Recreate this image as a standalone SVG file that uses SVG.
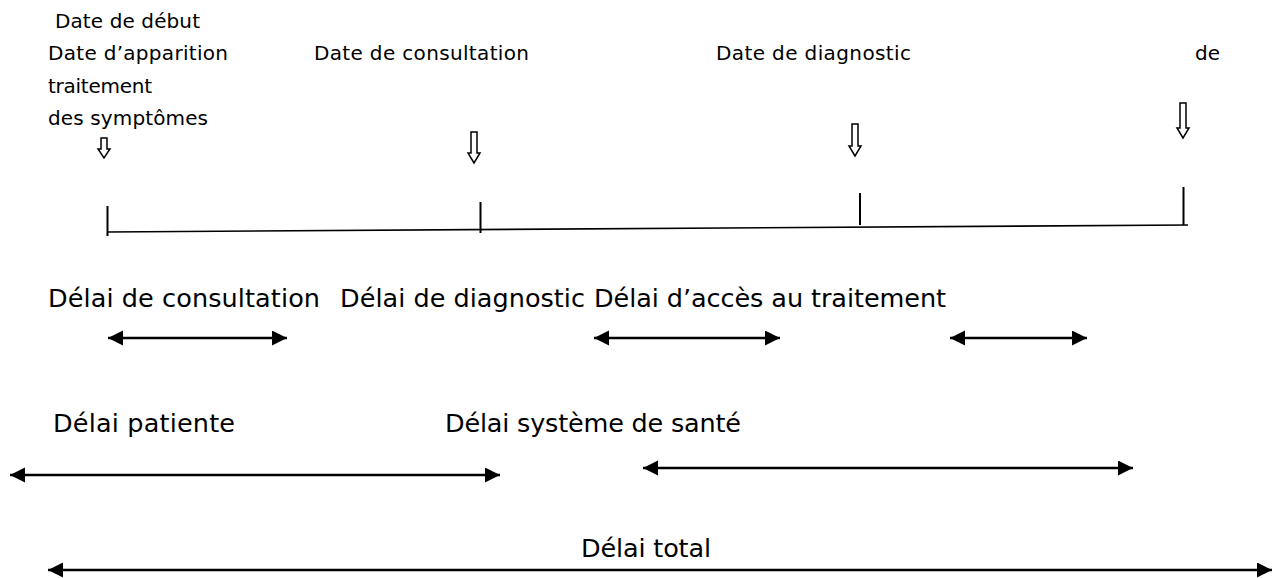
<svg xmlns="http://www.w3.org/2000/svg" width="1279" height="578" viewBox="0 0 1279 578">
<style>
.s{font-family:"DejaVu Sans",Verdana,sans-serif;font-size:20px;fill:#000}
.l{font-family:"DejaVu Sans",Verdana,sans-serif;font-size:25.5px;fill:#000}
.ln{stroke:#000;stroke-width:1.6;fill:none}
.tk{stroke:#000;stroke-width:2;fill:none}
.da{stroke:#000;stroke-width:2.6;fill:none;marker-start:url(#ah);marker-end:url(#ah)}
.ba{fill:#fff;stroke:#000;stroke-width:1.5}
</style>
<defs>
<marker id="ah" markerUnits="userSpaceOnUse" markerWidth="16" markerHeight="16" viewBox="0 0 16 16" refX="15" refY="7.5" orient="auto-start-reverse">
<path d="M0,0 L15,7.5 L0,15 Z" fill="#000"/>
</marker>
</defs>
<rect width="1279" height="578" fill="#fff"/>
<g id="label-debut">
<text class="s" x="55" y="28" textLength="145" lengthAdjust="spacing">Date de début</text>
<text class="s" x="48" y="60" textLength="180" lengthAdjust="spacing">Date d’apparition</text>
<text class="s" x="48" y="93" textLength="104" lengthAdjust="spacing">traitement</text>
<text class="s" x="48" y="125" textLength="160" lengthAdjust="spacing">des symptômes</text>
</g>
<g id="label-consultation"><text class="s" x="314" y="60" textLength="215" lengthAdjust="spacing">Date de consultation</text></g>
<g id="label-diagnostic"><text class="s" x="716" y="60" textLength="195" lengthAdjust="spacing">Date de diagnostic</text></g>
<g id="label-traitement"><text class="s" x="1195" y="60">de</text></g>
<g id="pointers">
<path class="ba" d="M101,138 H107 V149 H110 L104,158 L98,149 H101 Z"/>
<path class="ba" d="M471,132 H477 V153 H480 L474,163 L468,153 H471 Z"/>
<path class="ba" d="M852,124 H858 V146 H861 L855,156 L849,146 H852 Z"/>
<path class="ba" d="M1180,103 H1186 V128 H1189 L1183,138 L1177,128 H1180 Z"/>
</g>
<g id="timeline">
<line class="ln" x1="107" y1="232" x2="1188" y2="225"/>
<line class="tk" x1="107.5" y1="206" x2="107.5" y2="236"/>
<line class="tk" x1="480.5" y1="202" x2="480.5" y2="233"/>
<line class="tk" x1="860" y1="193" x2="860" y2="225"/>
<line class="tk" x1="1183.5" y1="187" x2="1183.5" y2="225"/>
</g>
<g id="delai-consultation"><text class="l" x="48" y="307" textLength="272" lengthAdjust="spacing">Délai de consultation</text></g>
<g id="delai-diagnostic"><text class="l" x="340" y="307" textLength="245" lengthAdjust="spacing">Délai de diagnostic</text></g>
<g id="delai-acces"><text class="l" x="594" y="307" textLength="352" lengthAdjust="spacing">Délai d’accès au traitement</text></g>
<g id="delai-patiente"><text class="l" x="53" y="432" textLength="182" lengthAdjust="spacing">Délai patiente</text></g>
<g id="delai-systeme"><text class="l" x="445" y="432" textLength="296" lengthAdjust="spacing">Délai système de santé</text></g>
<g id="delai-total"><text class="l" x="581" y="557" textLength="130" lengthAdjust="spacing">Délai total</text></g>
<g id="connectors">
<line class="da" x1="108" y1="338" x2="287" y2="338"/>
<line class="da" x1="594" y1="338" x2="780" y2="338"/>
<line class="da" x1="950" y1="338" x2="1087" y2="338"/>
<line class="da" x1="10" y1="475" x2="500" y2="475"/>
<line class="da" x1="643" y1="468" x2="1133" y2="468"/>
<line class="da" x1="48" y1="570" x2="1272" y2="570"/>
</g>
</svg>
